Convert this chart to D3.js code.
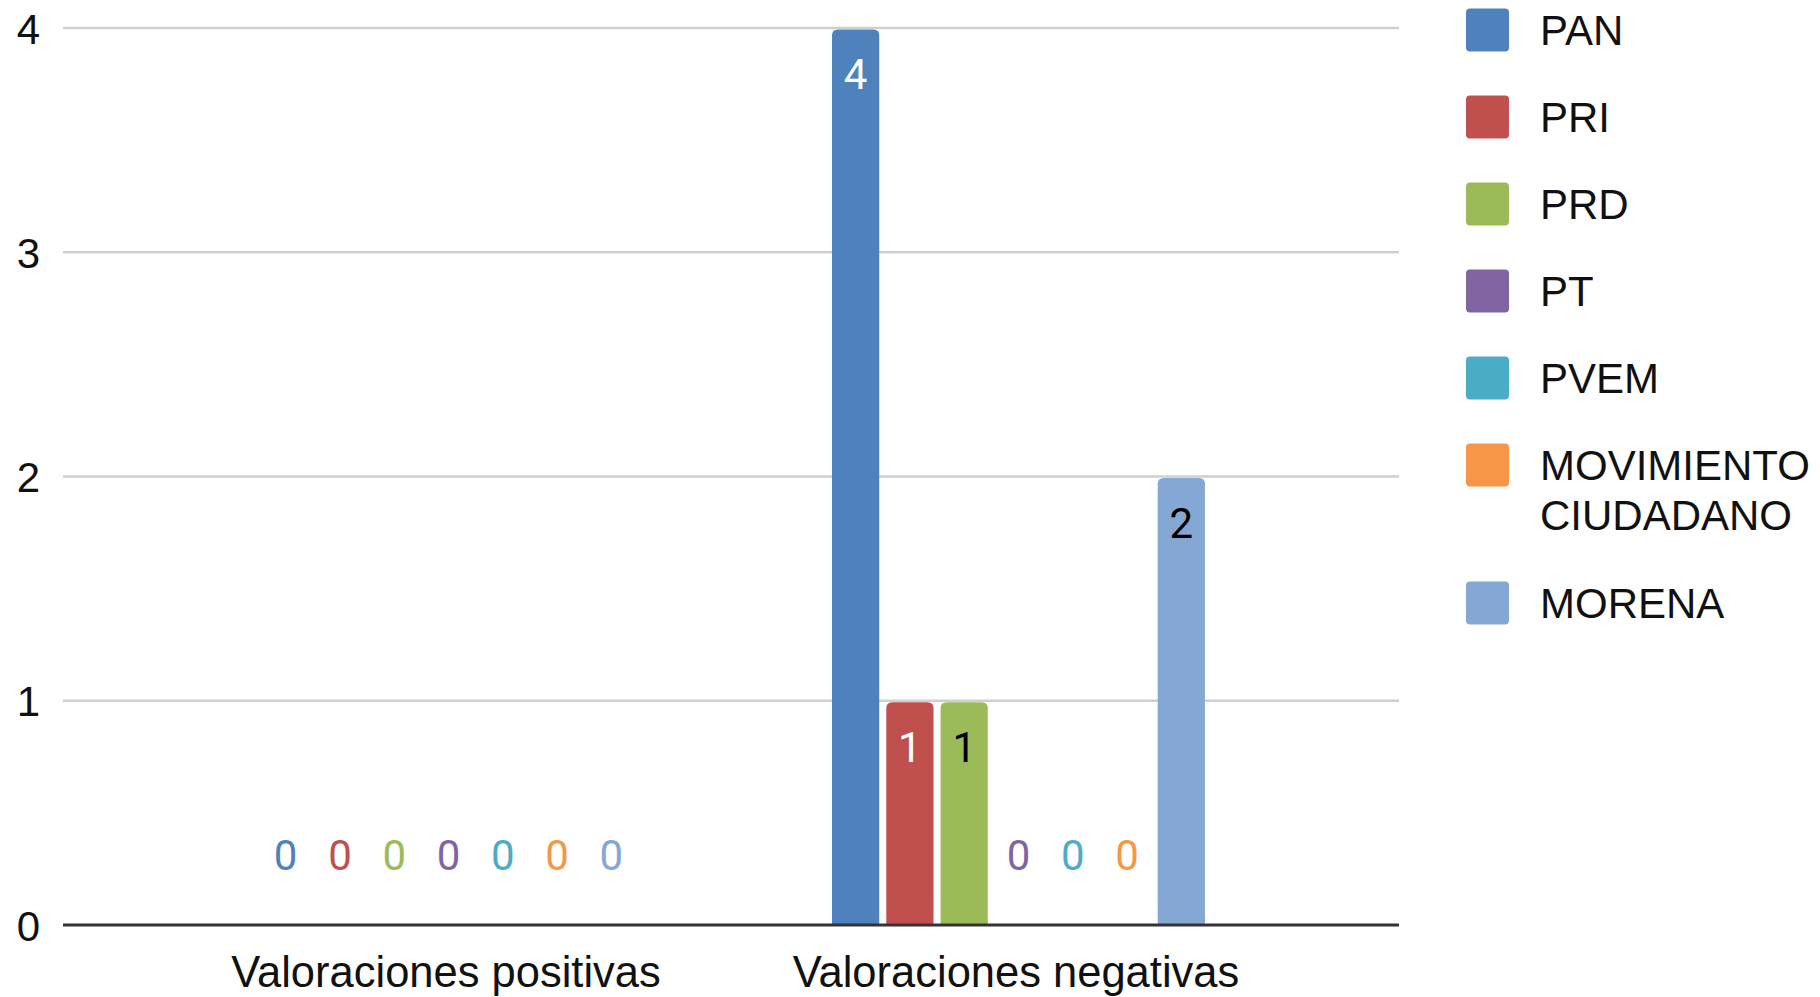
<!DOCTYPE html>
<html>
<head>
<meta charset="utf-8">
<script src="https://cdn.jsdelivr.net/npm/d3@7"></script>
<style>
  html, body { margin: 0; padding: 0; background: #ffffff; }
  svg { display: block; }
</style>
</head>
<body>
<svg id="chart" width="1820" height="997"></svg>
<script>
// ---- data ----
const categories = ["Valoraciones positivas", "Valoraciones negativas"];
const seriesNames = ["PAN", "PRI", "PRD", "PT", "PVEM", "MOVIMIENTO CIUDADANO", "MORENA"];
const legendLines = [["PAN"], ["PRI"], ["PRD"], ["PT"], ["PVEM"], ["MOVIMIENTO", "CIUDADANO"], ["MORENA"]];
const seriesColors = ["#4f81bd", "#c0504d", "#9bbb59", "#8064a2", "#4bacc6", "#f79646", "#85a7d3"];
const labelColorsInside = ["#ffffff", "#ffffff", "#000000", "#ffffff", "#000000", "#000000", "#000000"];
const valuesPositivas = [0, 0, 0, 0, 0, 0, 0];
const valuesNegativas = [4, 1, 1, 0, 0, 0, 2];
const yTicks = [0, 1, 2, 3, 4];

const seriesValues = [valuesPositivas, valuesNegativas];

// ---- layout ----
const svg = d3.select("#chart");
const plotLeft = 63, plotRight = 1399, plotTop = 28, plotBottom = 925;
const axisFont = "'Liberation Sans', Arial, sans-serif";
const labelFont = "Roboto, 'Liberation Sans', sans-serif";

const y = d3.scaleLinear().domain([0, 4]).range([plotBottom, plotTop]);
const x0 = d3.scaleBand().domain(categories).range([plotLeft, plotRight])
  .paddingInner(0).paddingOuter(0.172);
const groupShift = 2.5;
const groupHalf = 190;
const x1 = d3.scaleBand().domain(seriesNames).range([-groupHalf + groupShift, groupHalf + groupShift])
  .paddingInner(0.13).paddingOuter(0.065);

// gridlines
const gridVals = yTicks.filter(d => d !== 0);
svg.append("g").selectAll("line").data(gridVals).join("line")
  .attr("x1", plotLeft).attr("x2", plotRight)
  .attr("y1", d => y(d)).attr("y2", d => y(d))
  .attr("stroke", "#cfcfcf").attr("stroke-width", 2.5);

// y axis tick labels
const yAxis = d3.axisLeft(y).tickValues(yTicks).tickSize(0).tickPadding(23).tickFormat(d3.format("d"));
const yg = svg.append("g").attr("transform", `translate(${plotLeft},0)`).call(yAxis);
yg.select(".domain").remove();
yg.selectAll("text").attr("font-family", axisFont).attr("font-size", 42).attr("fill", "#111")
  .attr("dy", "0.36em");

// bars
const rows = [];
categories.forEach((c, ci) => {
  seriesNames.forEach((s, si) => {
    rows.push({ cat: c, series: s, si: si, value: seriesValues[ci][si] });
  });
});

function barPath(d) {
  const cx = x0(d.cat) + x0.bandwidth() / 2;
  const xl = cx + x1(d.series);
  const w = x1.bandwidth();
  const yt = y(d.value) + 1.5, yb = y(0);
  const r = Math.min(6, (yb - yt) / 2);
  return `M${xl},${yb} L${xl},${yt + r} Q${xl},${yt} ${xl + r},${yt} L${xl + w - r},${yt} Q${xl + w},${yt} ${xl + w},${yt + r} L${xl + w},${yb} Z`;
}

svg.append("g").selectAll("path").data(rows.filter(d => d.value > 0)).join("path")
  .attr("d", barPath)
  .attr("fill", d => seriesColors[d.si]);

// baseline axis
svg.append("line")
  .attr("x1", plotLeft).attr("x2", plotRight)
  .attr("y1", y(0)).attr("y2", y(0))
  .attr("stroke", "#333333").attr("stroke-width", 3);

// data labels
svg.append("g").selectAll("text").data(rows).join("text")
  .attr("x", d => x0(d.cat) + x0.bandwidth() / 2 + x1(d.series) + x1.bandwidth() / 2)
  .attr("y", d => d.value > 0 ? y(d.value) + 61 : y(0) - 55)
  .attr("text-anchor", "middle")
  .attr("font-family", labelFont)
  .attr("font-size", 42)
  .attr("fill", d => d.value > 0 ? labelColorsInside[d.si] : seriesColors[d.si])
  .text(d => d.value);

// category labels
const xAxis = d3.axisBottom(x0).tickSize(0).tickPadding(0);
const xg = svg.append("g").attr("transform", `translate(0,${plotBottom})`).call(xAxis);
xg.select(".domain").remove();
xg.selectAll("text").attr("font-family", axisFont).attr("font-size", 43.5).attr("fill", "#111")
  .attr("dy", null).attr("y", 62);

// legend
const legendX = 1466, swatch = 43, textX = 1540;
let cy = 30;
const legendPos = [];
legendLines.forEach((lines, i) => {
  legendPos.push(cy);
  cy += 87 + (lines.length - 1) * 51;
});
const lg = svg.append("g");
const items = lg.selectAll("g").data(seriesNames).join("g");
items.append("rect")
  .attr("x", legendX).attr("y", (d, i) => legendPos[i] - swatch / 2)
  .attr("width", swatch).attr("height", swatch).attr("rx", 4)
  .attr("fill", (d, i) => seriesColors[i]);
items.each(function(d, i) {
  const t = d3.select(this).append("text")
    .attr("font-family", axisFont).attr("font-size", 42).attr("fill", "#111");
  legendLines[i].forEach((ln, k) => {
    t.append("tspan").attr("x", textX).attr("y", legendPos[i] + 15 + k * 50).text(ln);
  });
});
</script>
</body>
</html>
